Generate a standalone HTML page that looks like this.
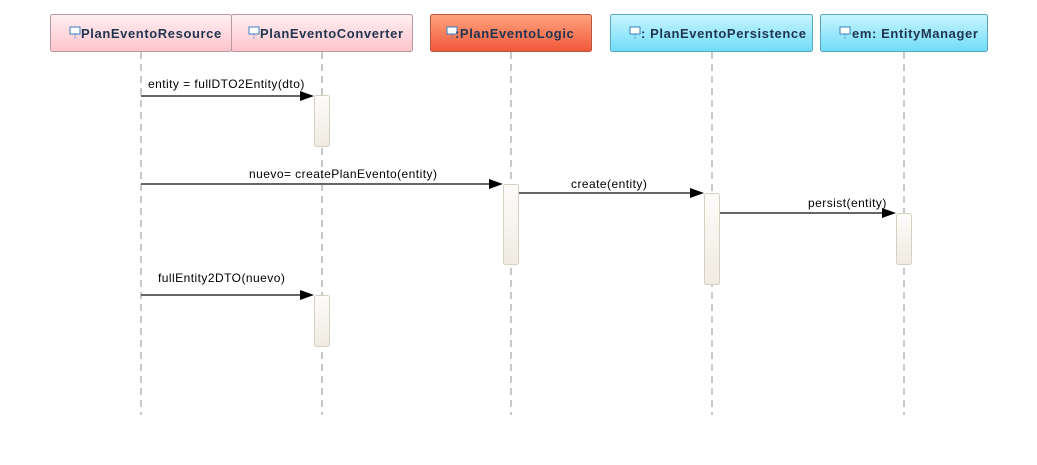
<!DOCTYPE html>
<html><head><meta charset="utf-8"><style>
html,body{margin:0;padding:0;background:#fff;}
svg{display:block;}
.h{font-family:"Liberation Sans",sans-serif;font-size:13px;font-weight:bold;fill:#1f3550;letter-spacing:0.6px;}
.m{font-family:"Liberation Sans",sans-serif;font-size:12px;fill:#000;letter-spacing:0.45px;}
</style></head><body>
<svg width="1037" height="465" viewBox="0 0 1037 465" xmlns="http://www.w3.org/2000/svg">
<defs>
<linearGradient id="pk" x1="0" y1="0" x2="0" y2="1"><stop offset="0" stop-color="#fff0f2"/><stop offset="1" stop-color="#ffc4cb"/></linearGradient>
<linearGradient id="or" x1="0" y1="0" x2="0" y2="1"><stop offset="0" stop-color="#ffa47f"/><stop offset="1" stop-color="#f0583a"/></linearGradient>
<linearGradient id="cy" x1="0" y1="0" x2="0" y2="1"><stop offset="0" stop-color="#c9f5ff"/><stop offset="1" stop-color="#6fdcf8"/></linearGradient>
<linearGradient id="ac" x1="0" y1="0" x2="0" y2="1"><stop offset="0" stop-color="#fdfcfa"/><stop offset="1" stop-color="#efebe1"/></linearGradient>
<g id="ic"><rect x="0" y="0" width="10" height="7" fill="#fff" stroke="#3a7fc0" stroke-width="1"/><line x1="5" y1="7" x2="5" y2="13" stroke="#3a7fc0" stroke-dasharray="1.5,1.5"/></g>
</defs>
<g stroke="#c8c8c8" stroke-width="2" stroke-dasharray="7,5">
<line x1="141" y1="52" x2="141" y2="415"/>
<line x1="322" y1="52" x2="322" y2="415"/>
<line x1="511" y1="52" x2="511" y2="415"/>
<line x1="712" y1="52" x2="712" y2="415"/>
<line x1="904" y1="52" x2="904" y2="415"/>
</g>
<rect x="50.5" y="14.5" width="181" height="37" rx="2" fill="url(#pk)" stroke="#b89a9e"/>
<rect x="231.5" y="14.5" width="181" height="37" rx="2" fill="url(#pk)" stroke="#b89a9e"/>
<rect x="430.5" y="14.5" width="161" height="37" rx="2" fill="url(#or)" stroke="#b8563e"/>
<rect x="610.5" y="14.5" width="202" height="37" rx="2" fill="url(#cy)" stroke="#5aa8bc"/>
<rect x="820.5" y="14.5" width="167" height="37" rx="2" fill="url(#cy)" stroke="#5aa8bc"/>
<use href="#ic" x="70" y="27"/><text class="h" x="81" y="38">PlanEventoResource</text>
<use href="#ic" x="249" y="27"/><text class="h" x="260" y="38">PlanEventoConverter</text>
<use href="#ic" x="447" y="27"/><text class="h" x="455" y="38">:PlanEventoLogic</text>
<use href="#ic" x="630" y="27"/><text class="h" x="641" y="38">: PlanEventoPersistence</text>
<use href="#ic" x="840" y="27"/><text class="h" x="852" y="38">em: EntityManager</text>
<g fill="url(#ac)" stroke="#d6d0c2">
<rect x="314.5" y="95.5" width="15" height="51" rx="2"/>
<rect x="503.5" y="184.5" width="15" height="80" rx="2"/>
<rect x="704.5" y="193.5" width="15" height="91" rx="2"/>
<rect x="896.5" y="213.5" width="15" height="51" rx="2"/>
<rect x="314.5" y="295.5" width="15" height="51" rx="2"/>
</g>
<g stroke="#666" stroke-width="2">
<line x1="141" y1="96" x2="302" y2="96"/>
<line x1="141" y1="184" x2="491" y2="184"/>
<line x1="519" y1="193" x2="692" y2="193"/>
<line x1="720" y1="213" x2="884" y2="213"/>
<line x1="141" y1="295" x2="302" y2="295"/>
</g>
<g fill="#000">
<polygon points="300,91 314,96 300,101"/>
<polygon points="489,179 503,184 489,189"/>
<polygon points="690,188 704,193 690,198"/>
<polygon points="882,208 896,213 882,218"/>
<polygon points="300,290 314,295 300,300"/>
</g>
<text class="m" x="148" y="88">entity = fullDTO2Entity(dto)</text>
<text class="m" x="249" y="178">nuevo= createPlanEvento(entity)</text>
<text class="m" x="571" y="188">create(entity)</text>
<text class="m" x="808" y="207">persist(entity)</text>
<text class="m" x="158" y="282">fullEntity2DTO(nuevo)</text>
</svg>
</body></html>
